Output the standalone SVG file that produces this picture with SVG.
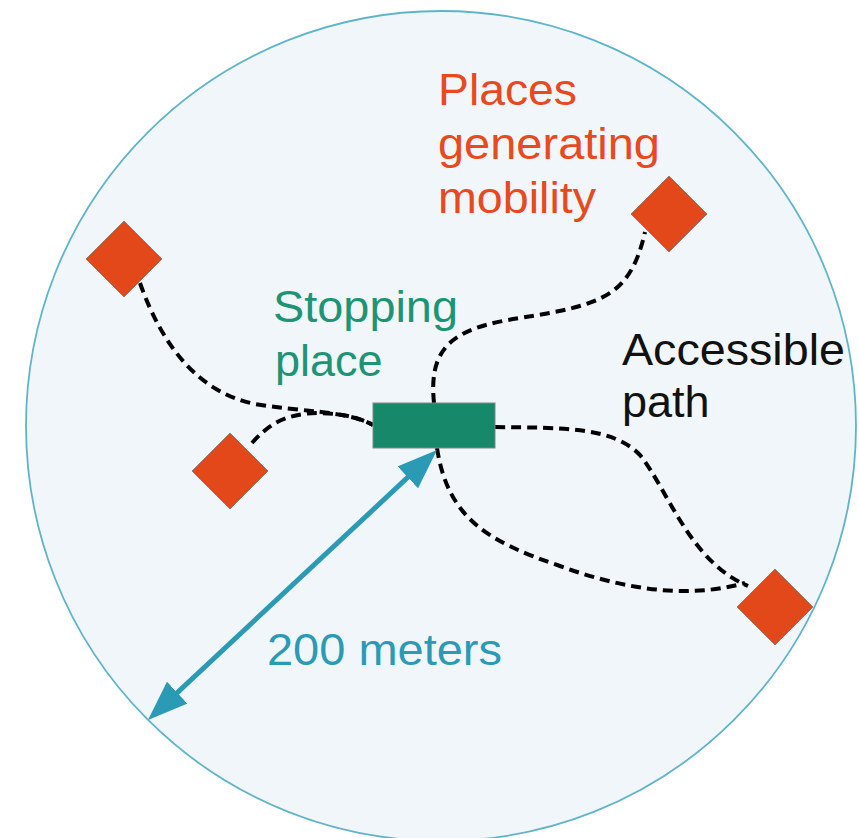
<svg xmlns="http://www.w3.org/2000/svg" width="859" height="838" viewBox="0 0 859 838">
<style>
.lbl{font-family:"Liberation Sans",Arial,sans-serif;font-size:45px}
.orange{fill:#e8491d}
.green{fill:#1d9474}
.black{fill:#111}
.blue{fill:#2b9ab5}
.place{fill:#e2481a;stroke:#9a7a70;stroke-width:1}
.path{fill:none;stroke:#000;stroke-width:4;stroke-dasharray:10,6}
</style>
<defs>
<marker id="ah" viewBox="0 0 40 30" refX="20" refY="15" markerWidth="40" markerHeight="30" markerUnits="userSpaceOnUse" orient="auto-start-reverse">
<path d="M0,0 L40,15 L0,30 z" fill="#2b9ab5"/>
</marker>
</defs>
<rect width="859" height="838" fill="#ffffff"/>
<g id="area">
<circle cx="441" cy="426" r="415" fill="#f1f6fa" stroke="#5fb4ca" stroke-width="1.8"/>
</g>
<g id="connectors">
<path class="path" d="M140,283 C160,340 195,392 255,404 C300,412 345,410 373,425"/>
<path class="path" d="M252,443 C268,425 285,413 320,413 C345,414 360,418 373,425"/>
<path class="path" d="M434,403 C428,345 455,328 520,318 C600,305 630,298 645,232"/>
<path class="path" d="M495,427 C560,428 612,426 640,455 C668,490 690,562 748,586"/>
<path class="path" d="M437,448 C448,520 490,542 560,566 C620,588 685,600 745,583"/>
<line x1="422.4" y1="463.7" x2="162.6" y2="706.3" stroke="#2b9ab5" stroke-width="5" marker-start="url(#ah)" marker-end="url(#ah)"/>
</g>
<g id="stop">
<rect x="373" y="403" width="122" height="45" fill="#17896a" stroke="#7a8a84" stroke-width="1"/>
</g>
<g id="place1"><polygon class="place" points="124,221 162,259 124,297 86,259"/></g>
<g id="place2"><polygon class="place" points="669,176 707,214 669,252 631,214"/></g>
<g id="place3"><polygon class="place" points="230,433 268,471 230,509 192,471"/></g>
<g id="place4"><polygon class="place" points="775,569 813,607 775,645 737,607"/></g>
<g id="labels">
<text class="lbl orange" x="438" y="105" textLength="139" lengthAdjust="spacingAndGlyphs">Places</text>
<text class="lbl orange" x="438" y="159" textLength="222" lengthAdjust="spacingAndGlyphs">generating</text>
<text class="lbl orange" x="438" y="213" textLength="158" lengthAdjust="spacingAndGlyphs">mobility</text>
<text class="lbl green" x="273" y="322" textLength="185" lengthAdjust="spacingAndGlyphs">Stopping</text>
<text class="lbl green" x="275" y="376">place</text>
<text class="lbl black" x="622" y="365" textLength="223" lengthAdjust="spacingAndGlyphs">Accessible</text>
<text class="lbl black" x="622" y="417">path</text>
<text class="lbl blue" x="267" y="665" textLength="235" lengthAdjust="spacingAndGlyphs">200 meters</text>
</g>
</svg>
